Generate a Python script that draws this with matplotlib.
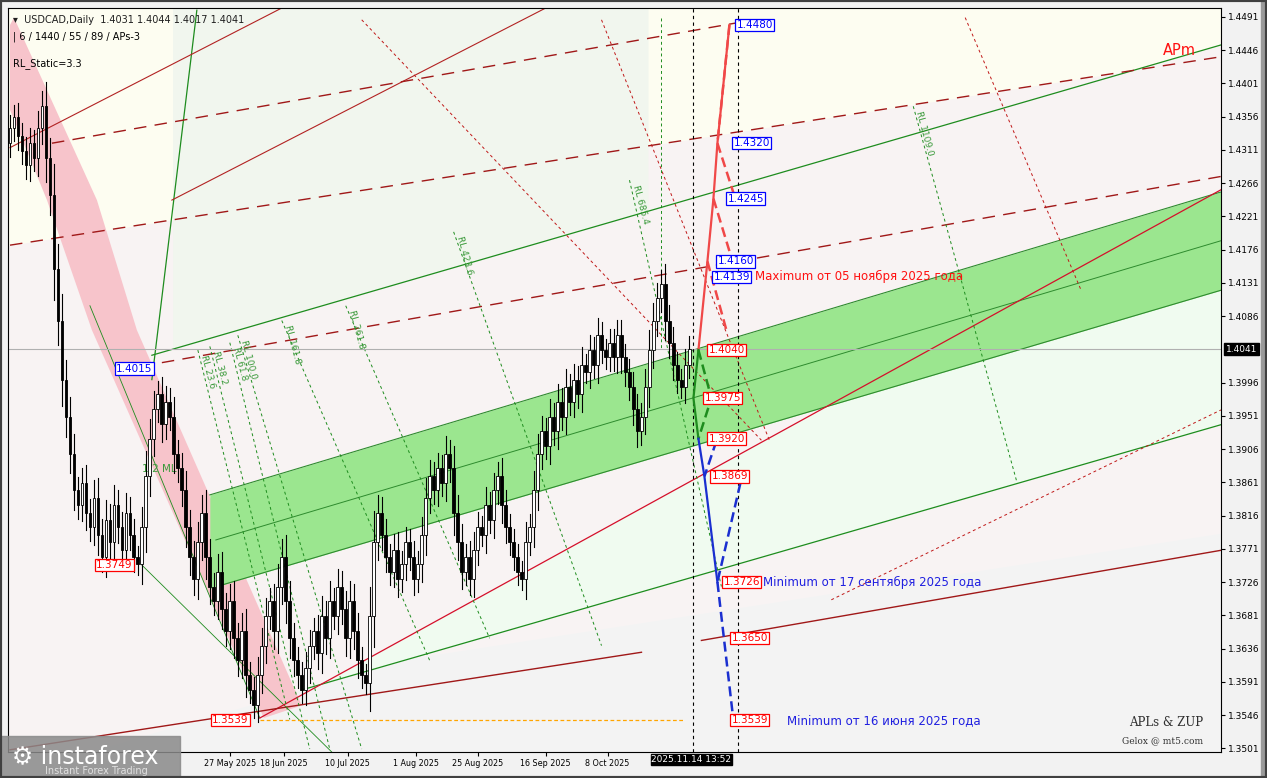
import numpy as np
import matplotlib
matplotlib.use('Agg')
import matplotlib.pyplot as plt
from matplotlib.patches import Polygon, Rectangle

# ---- data ----
closes = [1.4340,1.4355,1.4330,1.4310,1.4290,1.4320,1.4300,1.4340,1.4370,1.4300,
          1.4250,1.4150,1.4080,1.4000,1.3950,1.3900,1.3850,1.3830,1.3860,1.3820,
          1.3800,1.3840,1.3790,1.3760,1.3810,1.3780,1.3830,1.3800,1.3770,1.3820,
          1.3790,1.3760,1.3750,1.3800,1.3870,1.3920,1.3960,1.3980,1.3940,1.3970,
          1.3950,1.3900,1.3880,1.3850,1.3800,1.3760,1.3730,1.3780,1.3820,1.3760,
          1.3720,1.3700,1.3740,1.3690,1.3660,1.3700,1.3650,1.3620,1.3660,1.3600,
          1.3580,1.3560,1.3600,1.3640,1.3680,1.3700,1.3660,1.3720,1.3760,1.3700,
          1.3650,1.3620,1.3600,1.3580,1.3610,1.3640,1.3660,1.3630,1.3680,1.3650,
          1.3700,1.3680,1.3720,1.3690,1.3650,1.3700,1.3660,1.3620,1.3600,1.3590,
          1.3680,1.3780,1.3820,1.3790,1.3760,1.3740,1.3770,1.3730,1.3750,1.3780,
          1.3760,1.3730,1.3750,1.3790,1.3840,1.3870,1.3850,1.3880,1.3860,1.3900,
          1.3880,1.3820,1.3780,1.3740,1.3760,1.3730,1.3770,1.3800,1.3790,1.3830,
          1.3810,1.3850,1.3870,1.3830,1.3800,1.3780,1.3760,1.3740,1.3730,1.3780,
          1.3800,1.3850,1.3900,1.3930,1.3910,1.3950,1.3930,1.3970,1.3950,1.3990,
          1.3970,1.4000,1.3980,1.4020,1.4010,1.4040,1.4020,1.4060,1.4040,1.4030,
          1.4050,1.4030,1.4060,1.4030,1.4010,1.3990,1.3960,1.3930,1.3950,1.3990,
          1.4040,1.4080,1.4110,1.4130,1.4080,1.4050,1.4020,1.4000,1.3990,1.4020,
          1.4041]
first_open = 1.4320

date_ticks = [55, 68.5, 84.5, 101.5, 117, 134, 149.5]
date_labels = ['27 May 2025', '18 Jun 2025', '10 Jul 2025', '1 Aug 2025',
               '25 Aug 2025', '16 Sep 2025', '8 Oct 2025']

# channel / lines as (bar, price) anchors
band_upper = [(50, 1.3844), (303, 1.4254)]
band_lower = [(53, 1.3722), (303, 1.4121)]
band_mid = [(51.5, 1.3783), (303, 1.4188)]
green_up = [(35.5, 1.4033), (303, 1.4453)]
green_low = [(73, 1.3580), (303, 1.3939)]
green_steep = [(46.75, 1.4500), (35.5, 1.4000)]
green_thin = [[(33, 1.3749), (80.5, 1.3496)], [(20, 1.4100), (62.5, 1.3542)]]
red_main = [(62.5, 1.3542), (303, 1.4257)]
red_top = [[(0, 1.4314), (68, 1.4503)], [(40.5, 1.4243), (138, 1.4514)]]
red_low = [[(0, 1.3499), (158, 1.3631)], [(173, 1.3647), (303, 1.3769)]]
red_dashed = [[(10.5, 1.4320), (183, 1.4484)], [(0, 1.4182), (303, 1.4437)],
              [(38, 1.4023), (303, 1.4275)]]
red_dotted = [[(88, 1.4487), (188, 1.3918)], [(148, 1.4487), (190, 1.3918)],
              [(239, 1.4490), (268, 1.4121)], [(205.5, 1.3702), (303, 1.3959)]]
pink_band = [(0, 1.4480), (1, 1.4490), (21.75, 1.4243), (31.75, 1.4067), (73, 1.3559),
             (63.5, 1.3542), (20.5, 1.4067), (9.25, 1.4243), (0, 1.4365)]
fib_names = ['RL 23.6', 'RL 38.2', 'RL 61.8', 'RL 100.0', 'RL 161.8', 'RL 261.8',
             'RL 423.6', 'RL 685.4', 'RL 1109.0']
fib_lines = [[(47, 1.4040), (70, 1.3540)], [(50, 1.4045), (75, 1.3500)],
             [(55, 1.4050), (80, 1.3500)], [(57, 1.4060), (88, 1.3500)],
             [(68, 1.4080), (105, 1.3620)], [(84, 1.4100), (120, 1.3650)],
             [(111, 1.4200), (148, 1.3640)], [(155, 1.4270), (178, 1.3720)],
             [(226, 1.4370), (252, 1.3860)]]

# forecast paths
red_path = [(172.25, 1.4040), (174.5, 1.4160), (176, 1.4245), (177, 1.4320), (180, 1.4480)]
red_back = [[(180, 1.4480), (177, 1.4320)], [(177, 1.4320), (181, 1.4253)],
            [(176, 1.4245), (180, 1.4174)], [(174.5, 1.4160), (179.25, 1.4067)]]
green_path = [(172.25, 1.4040), (171, 1.3975), (172.25, 1.3920)]
green_back = [(172.25, 1.4040), (175.5, 1.3975), (172.25, 1.3920)]
blue_path = [(172.25, 1.3920), (173.75, 1.3869), (177, 1.3726)]
blue_back = [[(176.75, 1.3917), (173.75, 1.3869)], [(182.75, 1.3860), (177, 1.3726)],
             [(177, 1.3726), (181, 1.3539)]]

red_levels = [1.4040, 1.3975, 1.3920, 1.3869, 1.3726, 1.3650, 1.3539]
red_level_x = [174.75, 173.75, 174.75, 175.5, 178.5, 180.5, 180.5]
blue_levels = [1.4480, 1.4320, 1.4245, 1.4160, 1.4139]
blue_level_x = [181.75, 181, 179.5, 177, 176]

ytop, ybot = 1.4503, 1.3496
xmax = 303

fig = plt.figure(figsize=(12.67, 7.78), dpi=100, facecolor='#F2F2F2')
ax = fig.add_axes([8/1267, 26/778, 1213/1267, 744/778])
ax.set_xlim(-0.5, xmax)
ax.set_ylim(ybot, ytop)
ax.set_facecolor('#F8F3F3')

def line_at(seg, x):
    (x0, y0), (x1, y1) = seg
    return y0 + (y1 - y0) * (np.asarray(x) - x0) / (x1 - x0)

# background tints
xs = np.linspace(-0.5, xmax, 200)
ax.fill_between(xs, np.maximum(line_at(green_up, xs), line_at(red_dashed[1], xs)), ytop,
                color='#FDFDF1', zorder=0, lw=0)
mg = (xs > 40) & (xs < 160)
ax.fill_between(xs[mg], line_at(green_up, xs[mg]), ytop, color='#F1F6EE', zorder=0, lw=0)
ax.fill_between(xs, ybot, np.minimum(line_at(green_low, xs), line_at(red_low[0], xs) + 0.004),
                color='#F3F3F3', zorder=0, lw=0)
m = xs > 73
ax.fill_between(xs[m], line_at(green_low, xs[m]), line_at(red_main, xs[m]),
                where=line_at(red_main, xs[m]) > line_at(green_low, xs[m]), color='#F0FBF0', zorder=0, lw=0)

ax.add_patch(Polygon(pink_band, closed=True, color='#F7C4CB', zorder=1, lw=0))
xb = np.linspace(50, xmax, 100)
ax.fill_between(xb, np.maximum(line_at(band_lower, xb), ybot), line_at(band_upper, xb),
                color='#9BE68F', zorder=1, lw=0)
ax.plot([p[0] for p in band_upper], [p[1] for p in band_upper], color='#2E8B2E', lw=0.8, zorder=2)
ax.plot([p[0] for p in band_lower], [p[1] for p in band_lower], color='#2E8B2E', lw=0.8, zorder=2)
ax.plot([p[0] for p in band_mid], [p[1] for p in band_mid], color='#2E8B2E', lw=0.7, zorder=2)

def seg_plot(seg, **kw):
    ax.plot([p[0] for p in seg], [p[1] for p in seg], **kw)

for s in [green_up, green_low, green_steep]:
    seg_plot(s, color='#1E8C1E', lw=0.9, zorder=2)
for s in green_thin:
    seg_plot(s, color='#1E8C1E', lw=0.6, zorder=2)
seg_plot(red_main, color='#D4102A', lw=0.9, zorder=2)
for s in red_top:
    seg_plot(s, color='#B22222', lw=0.8, zorder=2)
for s in red_low:
    seg_plot(s, color='#A01818', lw=1.0, zorder=2)
for s in red_dashed:
    seg_plot(s, color='#A01818', lw=1.0, ls=(0, (9, 6)), zorder=2)
for s in red_dotted:
    seg_plot(s, color='#C01818', lw=0.7, ls=(0, (3, 3)), zorder=2)
for name, s in zip(fib_names, fib_lines):
    seg_plot(s, color='#1E8C1E', lw=0.7, ls=(0, (3, 3)), zorder=2)
    ax.text(s[0][0] + 0.3, s[0][1] - 0.0005, name, color='#3A9A3A', fontsize=6.5,
            rotation=-75, ha='left', va='top', zorder=3)
ax.plot([163, 163], [1.4490, 1.4040], color='#1E8C1E', lw=0.7, ls=(0, (3, 3)), zorder=2)

# horizontal lines
ax.axhline(1.4041, color='#B0B0B0', lw=0.8, zorder=2)
ax.plot([62.5, 169], [1.3539, 1.3539], color='#FFA500', lw=0.9, ls=(0, (3, 2)), zorder=2)
for xv in [171, 182.25]:
    ax.axvline(xv, color='black', lw=0.8, ls=(0, (3, 3)), zorder=3)

# candles
opens = [first_open] + closes[:-1]
for i, (o, c) in enumerate(zip(opens, closes)):
    body = abs(c - o)
    hi = max(o, c) + 0.0012 + 0.3 * body
    lo = min(o, c) - 0.0012 - 0.3 * body
    ax.plot([i, i], [lo, hi], color='black', lw=0.8, zorder=4)
    ax.add_patch(Rectangle((i - 0.35, min(o, c)), 0.7, max(body, 0.0002),
                           facecolor='white' if c >= o else 'black',
                           edgecolor='black', lw=0.6, zorder=5))

# forecast paths
seg_plot(red_path, color='#F04848', lw=1.6, zorder=6)
for s in red_back:
    seg_plot(s, color='#F04848', lw=1.8, ls=(0, (4, 2)), zorder=6)
seg_plot(green_path, color='#1E8C1E', lw=1.6, zorder=6)
seg_plot(green_back, color='#1E8C1E', lw=1.8, ls=(0, (4, 2)), zorder=6)
seg_plot(blue_path, color='#1A2FD0', lw=1.6, zorder=6)
for s in blue_back:
    seg_plot(s, color='#1A2FD0', lw=1.8, ls=(0, (4, 2)), zorder=6)

def level_box(x, y, txt, col):
    ax.text(x, y, txt, color=col, fontsize=7.5, va='center', ha='left', zorder=8,
            bbox=dict(boxstyle='square,pad=0.12', fc='white', ec=col, lw=0.9))

for lv, xv in zip(red_levels, red_level_x):
    level_box(xv, lv, f'{lv:.4f}', '#FF0000')
for lv, xv in zip(blue_levels, blue_level_x):
    level_box(xv, lv, f'{lv:.4f}', '#0000FF')
level_box(26.5, 1.4015, '1.4015', '#0000FF')
level_box(21.5, 1.3749, '1.3749', '#FF0000')
level_box(50.5, 1.3539, '1.3539', '#FF0000')

ax.text(186.5, 1.4139, 'Maximum от 05 ноября 2025 года', color='#FF1010', fontsize=8.5, va='center')
ax.text(188.5, 1.3726, 'Minimum от 17 сентября 2025 года', color='#2020E0', fontsize=8.5, va='center')
ax.text(194.5, 1.3539, 'Minimum от 16 июня 2025 года', color='#2020E0', fontsize=8.5, va='center')
ax.text(288.5, 1.4446, 'APm', color='#FF1010', fontsize=10.5, va='center')
ax.text(33, 1.3875, '1/2 ML', color='#3A9A3A', fontsize=7.5, zorder=3)
ax.text(0.985, 0.035, 'APLs & ZUP', transform=ax.transAxes, ha='right', fontsize=8.5,
        family='DejaVu Serif', color='#303030')
ax.text(0.985, 0.012, 'Gelox @ mt5.com', transform=ax.transAxes, ha='right', fontsize=6.5,
        family='DejaVu Serif', color='#303030')

# header
ax.text(0.004, 0.99, '▾  USDCAD,Daily  1.4031 1.4044 1.4017 1.4041', transform=ax.transAxes,
        fontsize=7, va='top', color='#202020')
ax.text(0.004, 0.968, '| 6 / 1440 / 55 / 89 / APs-3', transform=ax.transAxes, fontsize=7, va='top')
ax.text(0.004, 0.933, 'RL_Static=3.3', transform=ax.transAxes, fontsize=7, va='top')

# axes styling
ax.yaxis.tick_right()
yt = [1.4491 - k * 0.0045 for k in range(23)]
yt = [v for v in yt if abs(v - 1.4041) > 0.002]
ax.set_yticks(yt)
ax.set_yticklabels([f'{v:.4f}' for v in yt], fontsize=6.5)
ax.set_xticks(date_ticks)
ax.set_xticklabels(date_labels, fontsize=5.8)
ax.tick_params(length=3, pad=2)
for sp in ax.spines.values():
    sp.set_color('black')
    sp.set_linewidth(0.8)
ax.text(1.004, (1.4041 - ybot) / (ytop - ybot), '1.4041', transform=ax.transAxes, fontsize=6.5,
        color='white', va='center', ha='left', bbox=dict(boxstyle='square,pad=0.15', fc='black', ec='black'))
ax.text(160.5, ybot - 0.0004, '2025.11.14 13:52', fontsize=6.5, color='white', va='top', ha='left',
        bbox=dict(boxstyle='square,pad=0.1', fc='black', ec='black'), clip_on=False, zorder=9)

# logo
fig.patches.append(Rectangle((0, 0), 180/1267, 42/778, transform=fig.transFigure,
                             color='#8A8A8A', alpha=0.85, zorder=10))
fig.text(12/1267, 22/778, '⚙ instaforex', color='white', fontsize=17, zorder=11, va='center')
fig.text(45/1267, 7/778, 'Instant Forex Trading', color='#E0E0E0', fontsize=7, zorder=11, va='center')

# right gray bar
fig.patches.append(Rectangle((1261/1267, 0), 6/1267, 1, transform=fig.transFigure,
                             color='#9A9A9A', zorder=0))
fig.patches.append(Rectangle((0, 0), 1, 1, transform=fig.transFigure, fill=False,
                             ec='#404040', lw=3, zorder=12))

fig.savefig('out.png', dpi=100, facecolor=fig.get_facecolor())
